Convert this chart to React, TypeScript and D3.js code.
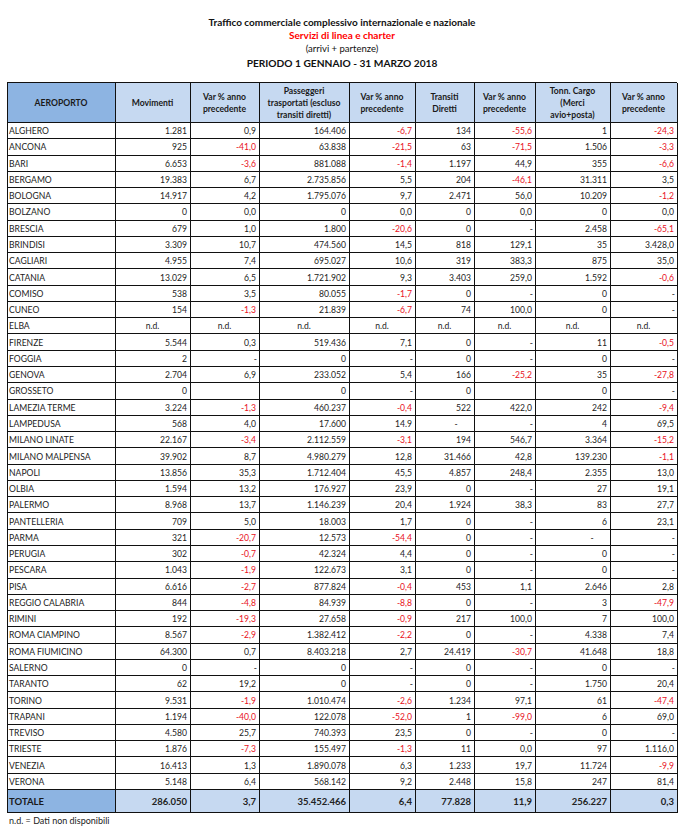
import React from "react";
import * as d3 from "d3";

const AIRPORTS = ["ALGHERO","ANCONA","BARI","BERGAMO","BOLOGNA","BOLZANO","BRESCIA","BRINDISI","CAGLIARI","CATANIA","COMISO","CUNEO","ELBA","FIRENZE","FOGGIA","GENOVA","GROSSETO","LAMEZIA TERME","LAMPEDUSA","MILANO LINATE","MILANO MALPENSA","NAPOLI","OLBIA","PALERMO","PANTELLERIA","PARMA","PERUGIA","PESCARA","PISA","REGGIO CALABRIA","RIMINI","ROMA CIAMPINO","ROMA FIUMICINO","SALERNO","TARANTO","TORINO","TRAPANI","TREVISO","TRIESTE","VENEZIA","VERONA"];

const MOVIMENTI = ["1.281","925","6.653","19.383","14.917","0","679","3.309","4.955","13.029","538","154","n.d.","5.544","2","2.704","0","3.224","568","22.167","39.902","13.856","1.594","8.968","709","321","302","1.043","6.616","844","192","8.567","64.300","0","62","9.531","1.194","4.580","1.876","16.413","5.148"];
const VAR_MOV = ["0,9","-41,0","-3,6","6,7","4,2","0,0","1,0","10,7","7,4","6,5","3,5","-1,3","n.d.","0,3","-","6,9","","-1,3","4,0","-3,4","8,7","35,3","13,2","13,7","5,0","-20,7","-0,7","-1,9","-2,7","-4,8","-19,3","-2,9","0,7","-","19,2","-1,9","-40,0","25,7","-7,3","1,3","6,4"];
const PASSEGGERI = ["164.406","63.838","881.088","2.735.856","1.795.076","0","1.800","474.560","695.027","1.721.902","80.055","21.839","n.d.","519.436","0","233.052","0","460.237","17.600","2.112.559","4.980.279","1.712.404","176.927","1.146.239","18.003","12.573","42.324","122.673","877.824","84.939","27.658","1.382.412","8.403.218","0","0","1.010.474","122.078","740.393","155.497","1.890.078","568.142"];
const VAR_PAX = ["-6,7","-21,5","-1,4","5,5","9,7","0,0","-20,6","14,5","10,6","9,3","-1,7","-6,7","n.d.","7,1","-","5,4","-","-0,4","14.9","-3,1","12,8","45,5","23,9","20,4","1,7","-54,4","4,4","3,1","-0,4","-8,8","-0,9","-2,2","2,7","-","-","-2,6","-52,0","23,5","-1,3","6,3","9,2"];
const TRANSITI = ["134","63","1.197","204","2.471","0","0","818","319","3.403","0","74","n.d.","0","0","166","0","522","-","194","31.466","4.857","0","1.924","0","0","0","0","453","0","217","0","24.419","0","0","1.234","1","0","11","1.233","2.448"];
const VAR_TRANS = ["-55,6","-71,5","44,9","-46,1","56,0","0,0","-","129,1","383,3","259,0","-","100,0","n.d.","-","-","-25,2","","422,0","-","546,7","42,8","248,4","-","38,3","-","-","-","-","1,1","-","100,0","-","-30,7","-","-","97,1","-99,0","-","0,0","19,7","15,8"];
const CARGO = ["1","1.506","355","31.311","10.209","0","2.458","35","875","1.592","0","0","n.d.","11","0","35","0","242","4","3.364","139.230","2.355","27","83","6","-","0","0","2.646","3","7","4.338","41.648","0","1.750","61","6","0","97","11.724","247"];
const VAR_CARGO = ["-24,3","-3,3","-6,6","3,5","-1,2","0,0","-65,1","3.428,0","35,0","-0,6","-","-","n.d.","-0,5","-","-27,8","-","-9,4","69,5","-15,2","-1,1","13,0","19,1","27,7","23,1","-","-","-","2,8","-47,9","100,0","7,4","18,8","-","20,4","-47,4","69,0","-","1.116,0","-9,9","81,4"];

const TOTAL_LABEL = "TOTALE";
const TOTALS = ["286.050","3,7","35.452.466","6,4","77.828","11,9","256.227","0,3"];

const HEADERS = [
  ["AEROPORTO"],
  ["Movimenti"],
  ["Var % anno", "precedente"],
  ["Passeggeri", "trasportati (escluso", "transiti diretti)"],
  ["Var % anno", "precedente"],
  ["Transiti", "Diretti"],
  ["Var % anno", "precedente"],
  ["Tonn. Cargo", "(Merci", "avio+posta)"],
  ["Var % anno", "precedente"],
];

const TITLE = "Traffico commerciale complessivo internazionale e nazionale";
const SUBTITLE = "Servizi di linea e charter";
const SUBTITLE2 = "(arrivi + partenze)";
const PERIOD = "PERIODO 1 GENNAIO - 31 MARZO 2018";
const FOOTNOTE = "n.d. = Dati non disponibili";

const COLUMNS = [MOVIMENTI, VAR_MOV, PASSEGGERI, VAR_PAX, TRANSITI, VAR_TRANS, CARGO, VAR_CARGO];
const IS_VAR = [false, true, false, true, false, true, false, true];

const W = 694, H = 828;
const EDGES = [7, 115, 190, 259, 349, 415, 474, 535, 610, 677];
const HEADER_TOP = 82.5, HEADER_BOTTOM = 122.5, BODY_BOTTOM = 789.5, TOTAL_BOTTOM = 812.5;
const FONT = "Lato, 'Open Sans', sans-serif";
const LIGHT = "#c6d9f1";
const DARK = "#8db4e2";
const RED = "#e8101c";
const TXT = "#222";

export default function App() {
  const y = d3.scaleBand<string>().domain(AIRPORTS).range([HEADER_BOTTOM, BODY_BOTTOM]).padding(0);
  const colX = d3.scaleOrdinal<number, number>().domain(d3.range(EDGES.length)).range(EDGES);
  const bw = y.bandwidth();

  const cell = (val: string, ci: number, cy: number, bold = false, key?: string) => {
    const left = colX(ci + 1), right = colX(ci + 2);
    if (val === "") return null;
    let x = right - 3;
    let anchor: "end" | "middle" = "end";
    if (val === "n.d.") { x = (left + right) / 2; anchor = "middle"; }
    else if (val === "-" && !IS_VAR[ci]) { x = right - 18; anchor = "middle"; }
    else if (val === "-") { x = right - 2; }
    const red = IS_VAR[ci] && val.startsWith("-") && val.length > 1;
    return (
      <text key={key} x={x} y={cy} textAnchor={anchor} dominantBaseline="central"
        fontSize={bold ? 9.5 : 8.6} fontWeight={bold ? 700 : 400} fill={red ? RED : TXT}>{val}</text>
    );
  };

  return (
    <svg width={W} height={H} style={{ position: "absolute", left: 0, top: 0, background: "#fff" }} fontFamily={FONT}>
      <rect width={W} height={H} fill="#fff" />
      <g textAnchor="middle">
        <text x={342} y={22} fontSize={10} fontWeight={700} fill="#111" dominantBaseline="central">{TITLE}</text>
        <text x={342} y={34.5} fontSize={10} fontWeight={700} fill="#ff0000" dominantBaseline="central">{SUBTITLE}</text>
        <text x={342} y={48.5} fontSize={9.5} fill="#111" dominantBaseline="central">{SUBTITLE2}</text>
        <text x={342} y={63} fontSize={10.2} fontWeight={700} fill="#111" dominantBaseline="central">{PERIOD}</text>
      </g>

      {/* header */}
      <rect x={colX(0)} y={HEADER_TOP} width={colX(9) - colX(0)} height={HEADER_BOTTOM - HEADER_TOP} fill={LIGHT} />
      <rect x={colX(0)} y={HEADER_TOP} width={colX(1) - colX(0)} height={HEADER_BOTTOM - HEADER_TOP} fill={DARK} />
      {HEADERS.map((lines, i) => {
        const cx = (colX(i) + colX(i + 1)) / 2;
        const mid = (HEADER_TOP + HEADER_BOTTOM) / 2 + 0.5;
        const lh = 12.3;
        return (
          <text key={i} x={cx} textAnchor="middle" fontSize={8.6} fontWeight={700} fill="#1a1a1a">
            {lines.map((l, j) => (
              <tspan key={j} x={cx} y={mid + (j - (lines.length - 1) / 2) * lh} dominantBaseline="central">{l}</tspan>
            ))}
          </text>
        );
      })}

      {/* total row background */}
      <rect x={colX(0)} y={BODY_BOTTOM} width={colX(9) - colX(0)} height={TOTAL_BOTTOM - BODY_BOTTOM} fill={LIGHT} />
      <rect x={colX(0)} y={BODY_BOTTOM} width={colX(1) - colX(0)} height={TOTAL_BOTTOM - BODY_BOTTOM} fill={DARK} />

      {/* body */}
      {AIRPORTS.map((a, ri) => {
        const cy = (y(a) as number) + bw / 2 + 0.5;
        return (
          <g key={a}>
            <text x={colX(0) + 2} y={cy} dominantBaseline="central" fontSize={8.6} fill={TXT}>{a}</text>
            {COLUMNS.map((col, ci) => cell(col[ri], ci, cy, false, `${a}-${ci}`))}
          </g>
        );
      })}

      {/* total */}
      {(() => {
        const cy = (BODY_BOTTOM + TOTAL_BOTTOM) / 2 + 0.5;
        return (
          <g>
            <text x={colX(0) + 2} y={cy} dominantBaseline="central" fontSize={9.5} fontWeight={700} fill="#1a1a1a">{TOTAL_LABEL}</text>
            {TOTALS.map((v, ci) => cell(v, ci, cy, true, `tot-${ci}`))}
          </g>
        );
      })()}

      {/* grid lines */}
      <g stroke="#111" strokeWidth={1} shapeRendering="crispEdges">
        {[HEADER_TOP, HEADER_BOTTOM, ...AIRPORTS.slice(1).map(a => y(a) as number), BODY_BOTTOM, TOTAL_BOTTOM].map((yy, i) => (
          <line key={`h${i}`} x1={colX(0)} x2={colX(9)} y1={yy} y2={yy} />
        ))}
        {EDGES.map((_, i) => (
          <line key={`v${i}`} x1={colX(i)} x2={colX(i)} y1={HEADER_TOP} y2={TOTAL_BOTTOM} />
        ))}
      </g>

      <text x={9} y={820} dominantBaseline="central" fontSize={9} fill="#222">{FOOTNOTE}</text>
    </svg>
  );
}
